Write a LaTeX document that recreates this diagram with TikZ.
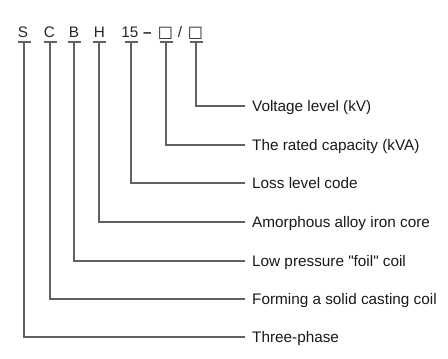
\documentclass[tikz,border=0pt]{standalone}
\usepackage{fontspec}
\setmainfont{Liberation Sans}[Ligatures=TeXOff]
\newfontfamily\symfont{DejaVu Sans}
\begin{document}
\begin{tikzpicture}[x=1pt,y=-1pt,
  code/.style={anchor=base,inner sep=0pt,font=\fontsize{15.3}{16}\selectfont,text=black!85},
  desc/.style={anchor=base west,inner sep=0pt,font=\fontsize{15.3}{16}\selectfont,text=black!90},
  lead/.style={draw=black!62,line width=1.3pt},
  bar/.style={draw=black!62,line width=1.5pt}]
\useasboundingbox (0,0) rectangle (448,359);
% code letters
\node[code] (S) at (23,37) {S};
\node[code] (C) at (49.5,37) {C};
\node[code] (B) at (74,37) {B};
\node[code] (H) at (99.5,37) {H};
\node[code] (n15) at (130,37) {15};
\node[code,font=\fontsize{15.3}{16}\selectfont\bfseries] (dash) at (147.5,37) {–};
\node[code,font=\fontsize{16}{16}\symfont] (b1) at (165.5,37) {□};
\node[code] (sl) at (180,37) {/};
\node[code,font=\fontsize{16}{16}\symfont] (b2) at (195.5,37) {□};
% underbar coordinates
\coordinate (uS) at (24,42);
\coordinate (uC) at (50,42);
\coordinate (uB) at (74,42);
\coordinate (uH) at (99,42);
\coordinate (u15) at (131,42);
\coordinate (ub1) at (166,42);
\coordinate (ub2) at (196,42);
\foreach \u in {uS,uC,uB,uH,u15,ub1,ub2}{
  \draw[bar] ([xshift=-6.5pt]\u) -- ([xshift=6.5pt]\u);
}
% descriptions
\node[desc] (t1) at (252,111.5) {Voltage level (kV)};
\node[desc] (t2) at (252,150.5) {The rated capacity (kVA)};
\node[desc] (t3) at (252,188.5) {Loss level code};
\node[desc] (t4) at (252,227.5) {Amorphous alloy iron core};
\node[desc] (t5) at (252,266.5) {Low pressure "foil" coil};
\node[desc] (t6) at (252,304.5) {Forming a solid casting coil};
\node[desc] (t7) at (252,342.5) {Three-phase};
% connectors
\coordinate (e1) at (245,106);
\coordinate (e2) at (245,145);
\coordinate (e3) at (245,183);
\coordinate (e4) at (245,222);
\coordinate (e5) at (245,261);
\coordinate (e6) at (245,299);
\coordinate (e7) at (245,337);
\draw[lead] (ub2) |- (e1);
\draw[lead] (ub1) |- (e2);
\draw[lead] (u15) |- (e3);
\draw[lead] (uH) |- (e4);
\draw[lead] (uB) |- (e5);
\draw[lead] (uC) |- (e6);
\draw[lead] (uS) |- (e7);
\end{tikzpicture}
\end{document}
